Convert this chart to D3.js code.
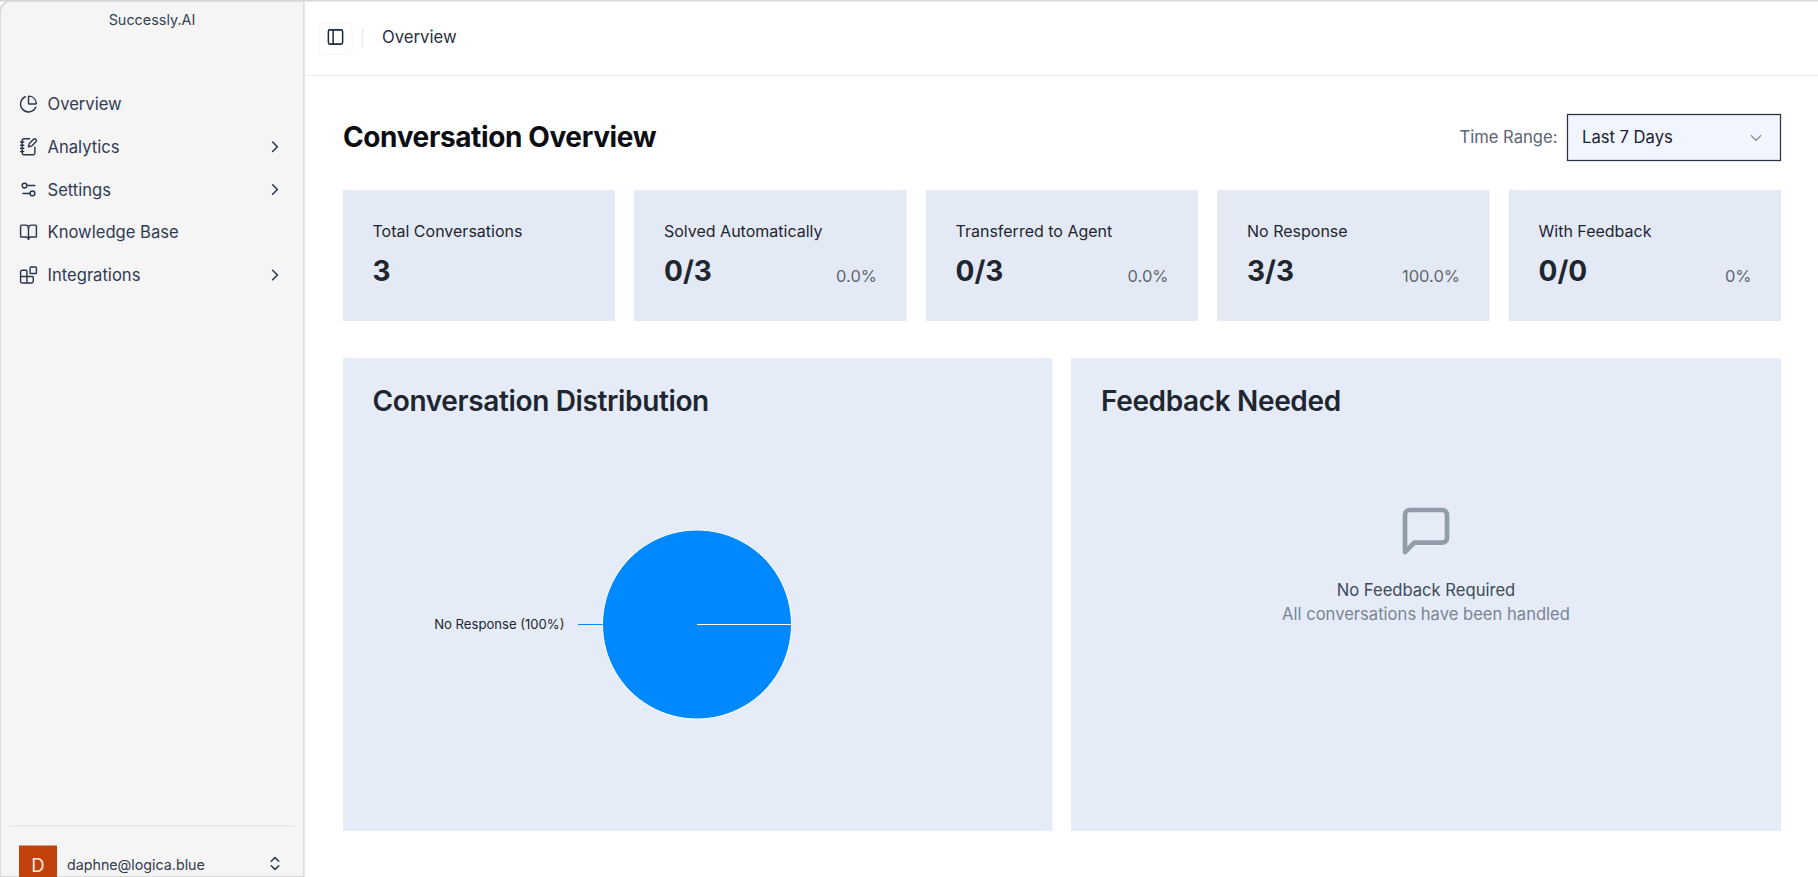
<!DOCTYPE html>
<html><head><meta charset="utf-8">
<script src="https://cdn.jsdelivr.net/npm/d3@7/dist/d3.min.js"></script>
<style>html,body{margin:0;padding:0;background:#fff;overflow:hidden}svg{display:block}text{font-family:Inter,sans-serif;dominant-baseline:central}</style>
</head><body><svg id="c" width="1818" height="877"></svg>
<script>
const pieCategories = ["Solved Automatically","Transferred to Agent","No Response"];
const pieValues = [0,0,3];
const pieColors = ["#00C49F","#FFBB28","#0088FE"];
const navLabels = ["Overview","Analytics","Settings","Knowledge Base","Integrations"];
const navHasChevron = [false,true,true,false,true];
const cardLabels = ["Total Conversations","Solved Automatically","Transferred to Agent","No Response","With Feedback"];
const cardValues = ["3","0/3","0/3","3/3","0/0"];
const cardPercents = ["","0.0%","0.0%","100.0%","0%"];

const icons = {
 pie:'<path d="M21 12c.552 0 1.005-.449.95-.998a10 10 0 0 0-8.953-8.951c-.55-.055-.998.398-.998.95v8a1 1 0 0 0 1 1z"/><path d="M21.21 15.89A10 10 0 1 1 8 2.83"/>',
 note:'<path d="M13.4 2H6a2 2 0 0 0-2 2v16a2 2 0 0 0 2 2h12a2 2 0 0 0 2-2v-7.4"/><path d="M2 6h4M2 10h4M2 14h4M2 18h4"/><path d="M21.378 5.626a1 1 0 1 0-3.004-3.004l-5.01 5.012a2 2 0 0 0-.506.854l-.837 2.87a.5.5 0 0 0 .62.62l2.87-.837a2 2 0 0 0 .854-.506z"/>',
 settings:'<path d="M20 7h-9M14 17H5"/><circle cx="17" cy="17" r="3"/><circle cx="7" cy="7" r="3"/>',
 book:'<path d="M12 7v14"/><path d="M3 18a1 1 0 0 1-1-1V4a1 1 0 0 1 1-1h5a4 4 0 0 1 4 4 4 4 0 0 1 4-4h5a1 1 0 0 1 1 1v13a1 1 0 0 1-1 1h-6a3 3 0 0 0-3 3 3 3 0 0 0-3-3z"/>',
 blocks:'<path d="M10 22V7a1 1 0 0 0-1-1H4a2 2 0 0 0-2 2v12a2 2 0 0 0 2 2h12a2 2 0 0 0 2-2v-5a1 1 0 0 0-1-1H2"/><rect x="14" y="2" width="8" height="8" rx="1"/>',
 right:'<path d="m9 18 6-6-6-6"/>',
 updown:'<path d="m7 15 5 5 5-5"/><path d="m7 9 5-5 5 5"/>',
 down:'<path d="m6 9 6 6 6-6"/>',
 panel:'<rect x="3" y="3" width="18" height="18" rx="2"/><path d="M9 3v18"/>',
 msg:'<path d="M21 15a2 2 0 0 1-2 2H7l-4 4V5a2 2 0 0 1 2-2h14a2 2 0 0 1 2 2z"/>'
};
const navIcons = ["pie","note","settings","book","blocks"];
const svg = d3.select("#c");
function icon(name,cx,cy,size,color,sw){
  svg.append("g").attr("transform",`translate(${cx-size/2},${cy-size/2}) scale(${size/24})`)
   .attr("fill","none").attr("stroke",color).attr("stroke-width",sw||2)
   .attr("stroke-linecap","round").attr("stroke-linejoin","round").html(icons[name]);
}
function text(s,x,y,size,color,weight,anchor){
  return svg.append("text").attr("x",x).attr("y",y).attr("font-size",size).attr("fill",color)
   .attr("font-weight",weight||400).attr("text-anchor",anchor||"start").text(s);
}
function rect(x,y,w,h,fill,extra){
  const r=svg.append("rect").attr("x",x).attr("y",y).attr("width",w).attr("height",h).attr("fill",fill);
  if(extra) extra(r); return r;
}
// window frame + sidebar
svg.append("path").attr("d","M0 877V12A11 11 0 0 1 11 1H304V877Z").attr("fill","#f5f5f5").attr("stroke","#d4d4d4").attr("stroke-width",1.5);
rect(0,0,1818,1.5,"#d8d8d8");
rect(304,1,1,876,"#e6e8ec");
text("Successly.AI",152,19.5,14.4,"#374151",400,"middle");
const navY = d3.scalePoint().domain(navLabels).range([104,275]);
navLabels.forEach((l,i)=>{
  icon(navIcons[i],28.5,navY(l),19,"#2b364c",1.8);
  text(l,47.5,navY(l),16.6,"#2f3b52");
  if(navHasChevron[i]) icon("right",275,navY(l),19,"#2b364c",2);
});
rect(10,825.5,284,1,"#e0e2e6");
rect(19,845.5,38,31.5,"#c2410c");
text("D",38,864.5,18.5,"#fde8dc",400,"middle");
text("daphne@logica.blue",67,864,14.25,"#2f3b52");
icon("updown",275,863.5,18,"#2b364c",2);
// header
rect(305,75,1513,1,"#eceef2");
rect(319,23,33,31,"#fff",r=>r.attr("rx",3).attr("stroke","#f6f6f8"));
icon("panel",335.5,37,19,"#1f2937",1.9);
rect(362,28,1,19,"#e6e8ec");
text("Overview",382,36.5,16.7,"#27303f");
// title row
text("Conversation Overview",343,137,28,"#0b0d12",700).attr("letter-spacing",-0.38);
text("Time Range:",1459.5,136.5,16.6,"#5b6472");
rect(1567.5,114.5,213,46,"#f0f5ff",r=>r.attr("stroke","#2a3042").attr("stroke-width",1.25));
text("Last 7 Days",1582,136.5,16.6,"#1b2230");
icon("down",1756,138,19,"#7b8494",1.6);
// cards
const cardX = d3.scaleBand().domain(cardLabels).range([343,1781]).paddingInner(19.5/291.5);
cardLabels.forEach((l,i)=>{
  const x=cardX(l), w=cardX.bandwidth();
  rect(Math.floor(x),190,w+x-Math.floor(x),131,"#e4eaf5");
  text(l,x+29.5,230.5,16,"#1f2630");
  text(cardValues[i],x+29.5,271,28,"#1f2630",700);
  if(cardPercents[i]) text(cardPercents[i],x+w-29.5,276,16.5,"#5f6671",400,"end");
});
// panels
rect(343,358,709.5,473,"#e5ecf7");
rect(1071,358,710,473,"#e5ecf7");
text("Conversation Distribution",372.5,401,28,"#1f2630",600).attr("letter-spacing",-0.36);
text("Feedback Needed",1101,401,28,"#1f2630",600).attr("letter-spacing",-0.36);
// pie
const pieGen = d3.pie().sort(null).value(d=>d).startAngle(Math.PI/2).endAngle(Math.PI/2+2*Math.PI-1e-4);
const arcGen = d3.arc().innerRadius(0).outerRadius(94.5);
const pieG = svg.append("g").attr("transform","translate(697,624.5)");
const slices = pieGen(pieValues);
pieG.selectAll("path").data(slices.filter(d=>d.value>0)).join("path")
  .attr("d",arcGen).attr("fill",d=>pieColors[d.index]).attr("stroke","#fff").attr("stroke-width",1);
slices.filter(d=>d.value>0).forEach(d=>{
  const pct=d3.format(".0%")(d.value/d3.sum(pieValues));
  const color=pieColors[d.index];
  pieG.append("line").attr("x1",-94.5).attr("x2",-119).attr("y1",0).attr("y2",0).attr("stroke",color).attr("stroke-width",1);
  pieG.append("text").attr("x",-132.5).attr("y",-1).attr("text-anchor","end").attr("font-size",13.1).attr("fill","#1f2630")
   .text(`${pieCategories[d.index]} (${pct})`);
});
// empty state
icon("msg",1426,531,56,"#929daa",2);
text("No Feedback Required",1426,589.5,16.6,"#3f4a5a",400,"middle");
text("All conversations have been handled",1426,613.5,16.6,"#7a8494",400,"middle");
</script></body></html>
